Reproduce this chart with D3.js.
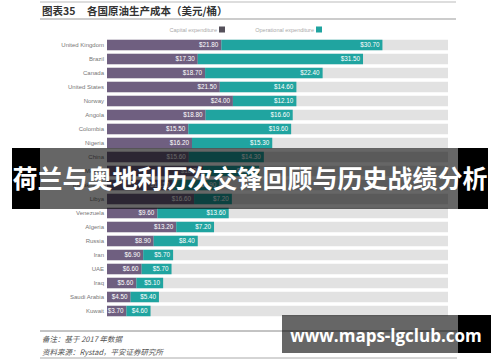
<!DOCTYPE html>
<html>
<head>
<meta charset="utf-8">
<script src="https://cdn.jsdelivr.net/npm/d3@7"></script>
<style>
  body { margin: 0; background: #fff; }
  svg { display: block; }
</style>
</head>
<body>
<svg id="chart" width="500" height="362"></svg>
<script>
// chart data (2017, USD per barrel)
const countries = ["United Kingdom", "Brazil", "Canada", "United States", "Norway", "Angola", "Colombia", "Nigeria",
  "China", "Mexico", "Kazakhstan", "Libya", "Venezuela", "Algeria", "Russia", "Iran", "UAE", "Iraq", "Saudi Arabia", "Kuwait"];
const capex = [21.8, 17.3, 18.7, 21.5, 24.0, 18.8, 15.5, 16.2, 15.6, 18.3, 12.5, 16.6, 9.6, 13.2, 8.9, 6.9, 6.6, 5.6, 4.5, 3.7];
const opex = [30.7, 31.5, 22.4, 14.6, 12.1, 16.6, 19.6, 15.3, 14.3, 10.7, 8.9, 7.2, 13.6, 7.2, 8.4, 5.7, 5.7, 5.1, 5.4, 4.6];
const seriesNames = ["Capital expenditure", "Operational expenditure"];
const xMax = 65;

const svg = d3.select("#chart");
const cjk = "'Noto Sans CJK SC', sans-serif";
const latin = "'Liberation Sans', Arial, sans-serif";
const purple = "#6f5f80";
const teal = "#20a4a0";

// scales
const x = d3.scaleLinear().domain([0, xMax]).range([107, 448]);
const y = d3.scaleBand().domain(countries).range([38, 318]).paddingInner(0.25).paddingOuter(0.125);

// title block
svg.append("line").attr("x1", 40).attr("x2", 456).attr("y1", 2).attr("y2", 2)
  .attr("stroke", "#bbb").attr("stroke-width", 1);
svg.append("line").attr("x1", 40).attr("x2", 456).attr("y1", 19).attr("y2", 19)
  .attr("stroke", "#999").attr("stroke-width", 1);
svg.append("text").attr("x", 42).attr("y", 14.5)
  .style("font-family", cjk).style("font-size", "10.5px").style("font-weight", "bold").attr("fill", "#333")
  .text("图表35");
svg.append("text").attr("x", 87).attr("y", 14.5)
  .style("font-family", cjk).style("font-size", "10.5px").style("font-weight", "bold").attr("fill", "#333")
  .text("各国原油生产成本（美元/桶）");

// legend
const legendX = [219, 316];
seriesNames.forEach((name, i) => {
  svg.append("text").attr("x", legendX[i] - 2).attr("y", 31.5).attr("text-anchor", "end")
    .style("font-family", latin).style("font-size", "5.5px").attr("fill", "#aaa").text(name);
  svg.append("rect").attr("x", legendX[i]).attr("y", 26.5).attr("width", 6).attr("height", 6)
    .attr("fill", i === 0 ? "#55505a" : teal);
});

// background tracks
svg.append("g").selectAll("rect").data(countries).join("rect")
  .attr("x", x(0)).attr("width", x(xMax) - x(0))
  .attr("y", d => y(d)).attr("height", y.bandwidth())
  .attr("fill", "#e2e2e2");

const rows = countries.map((c, i) => ({ c, cap: capex[i], op: opex[i] }));

// capex segments
svg.append("g").selectAll("rect").data(rows).join("rect")
  .attr("x", x(0)).attr("width", d => x(d.cap) - x(0))
  .attr("y", d => y(d.c)).attr("height", y.bandwidth())
  .attr("fill", purple);

// opex segments
svg.append("g").selectAll("rect").data(rows).join("rect")
  .attr("x", d => x(d.cap)).attr("width", d => x(d.cap + d.op) - x(d.cap))
  .attr("y", d => y(d.c)).attr("height", y.bandwidth())
  .attr("fill", teal);

// value labels
const fmt = v => "$" + v.toFixed(2);
svg.append("g").selectAll("text").data(rows).join("text")
  .attr("x", d => x(d.cap) - 3).attr("y", d => y(d.c) + y.bandwidth() / 2 + 2.2)
  .attr("text-anchor", "end")
  .style("font-family", latin).style("font-size", "6.3px").attr("fill", "#fff")
  .text(d => fmt(d.cap));
svg.append("g").selectAll("text").data(rows).join("text")
  .attr("x", d => x(d.cap + d.op) - 3).attr("y", d => y(d.c) + y.bandwidth() / 2 + 2.2)
  .attr("text-anchor", "end")
  .style("font-family", latin).style("font-size", "6.3px").attr("fill", "#fff")
  .text(d => fmt(d.op));

// country labels
svg.append("g").selectAll("text").data(countries).join("text")
  .attr("x", 104).attr("y", d => y(d) + y.bandwidth() / 2 + 2.2)
  .attr("text-anchor", "end")
  .style("font-family", latin).style("font-size", "6px").attr("fill", "#777")
  .text(d => d);

// footer
svg.append("line").attr("x1", 40).attr("x2", 457).attr("y1", 331).attr("y2", 331)
  .attr("stroke", "#888").attr("stroke-width", 1);
svg.append("line").attr("x1", 40).attr("x2", 457).attr("y1", 358).attr("y2", 358)
  .attr("stroke", "#aaa").attr("stroke-width", 1);
svg.append("text").attr("x", 42).attr("y", 341.5)
  .style("font-family", cjk).style("font-size", "7.5px").style("font-style", "italic").attr("fill", "#555")
  .text("备注：基于 2017 年数据");
svg.append("text").attr("x", 42).attr("y", 355)
  .style("font-family", cjk).style("font-size", "7.5px").style("font-style", "italic").attr("fill", "#555")
  .text("资料来源：Rystad，平安证券研究所");

// overlay banners: black outside the chart image, dimmed over it
svg.append("rect").attr("x", 12).attr("y", 148).attr("width", 28).attr("height", 61).attr("fill", "#000");
svg.append("rect").attr("x", 458).attr("y", 148).attr("width", 30).attr("height", 61).attr("fill", "#000");
svg.append("rect").attr("x", 40).attr("y", 148).attr("width", 418).attr("height", 61).attr("fill", "rgba(0,0,0,0.6)");
svg.append("text").attr("x", 250).attr("y", 187.5).attr("text-anchor", "middle")
  .style("font-family", cjk).style("font-size", "25px").style("font-weight", "bold").attr("fill", "#fff")
  .text("荷兰与奥地利历次交锋回顾与历史战绩分析");

svg.append("rect").attr("x", 458).attr("y", 315).attr("width", 33).attr("height", 38).attr("fill", "#000");
svg.append("rect").attr("x", 282).attr("y", 315).attr("width", 176).attr("height", 38).attr("fill", "rgba(0,0,0,0.6)");
svg.append("text").attr("x", 386).attr("y", 341.5).attr("text-anchor", "middle")
  .style("font-family", "'Open Sans', sans-serif").style("font-size", "17px").style("font-weight", "bold").attr("fill", "#fff")
  .text("www.maps-lgclub.com");
</script>
</body>
</html>
